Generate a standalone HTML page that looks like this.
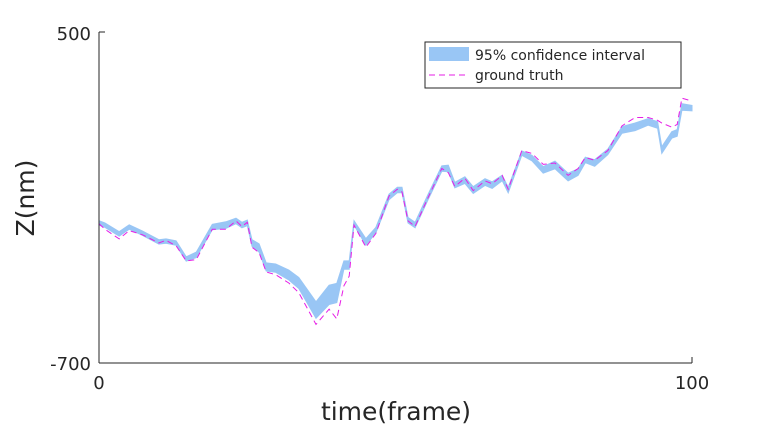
<!DOCTYPE html>
<html><head><meta charset="utf-8"><style>
body{margin:0;background:#fff;}
svg{display:block;font-family:"DejaVu Sans","Liberation Sans",sans-serif;}
</style></head><body>
<svg id="chart" width="765" height="430">
<g id="plot"></g>
<line x1="99" y1="32" x2="99" y2="363" stroke="#262626" stroke-width="1"/>
<line x1="99" y1="363" x2="692" y2="363" stroke="#262626" stroke-width="1"/>
<line x1="99" y1="32" x2="105" y2="32" stroke="#262626"/>
<line x1="692" y1="363" x2="692" y2="357" stroke="#262626"/>
<text x="91" y="40" font-size="18" text-anchor="end" fill="#262626">500</text>
<text x="91" y="370" font-size="18" text-anchor="end" fill="#262626">-700</text>
<text x="99" y="389" font-size="18" text-anchor="middle" fill="#262626">0</text>
<text x="692" y="389" font-size="18" text-anchor="middle" fill="#262626">100</text>
<text x="396" y="420" font-size="25" text-anchor="middle" fill="#262626">time(frame)</text>
<text transform="translate(34,198) rotate(-90)" font-size="25" text-anchor="middle" fill="#262626">Z(nm)</text>
<g>
<rect x="425" y="42" width="256" height="46" fill="#fff" stroke="#262626" stroke-width="1"/>
<rect x="429" y="47" width="40" height="14" fill="#99c6f5"/>
<text x="475" y="60" font-size="14" fill="#262626">95% confidence interval</text>
<line x1="429" y1="75" x2="469" y2="75" stroke="#e61ee6" stroke-dasharray="6,4"/>
<text x="475" y="80" font-size="14" fill="#262626">ground truth</text>
</g>
</svg>
<script>
const frames=[0,1,3.4,5.1,7.3,10.1,11.3,13,14.7,16.4,19.1,21.4,23.1,24.1,25,25.8,27,28.2,29.8,32,33.7,36.6,38.8,40.1,41.3,42.2,43,45,46.7,48.9,50.3,51.1,52.1,53.3,55.5,57.8,58.9,60,61.7,63.1,65.1,66.3,68,69,71.3,73,74.9,76.9,79.1,80.8,82,83.6,85.8,88.2,90.4,92.6,94.2,94.9,96.6,97.5,98.3,100];
const center=[-192,-200,-232,-207,-229,-261,-258,-265,-323,-308,-207,-200,-185,-200,-192,-265,-283,-352,-356,-381,-410,-508,-453,-446,-345,-345,-192,-261,-218,-98,-73,-73,-182,-200,-98,5,5,-55,-37,-73,-44,-55,-29,-73,61,43,0,18,-26,-8,36,25,65,145,156,174,163,72,127,134,228,224];
const halfWidth=[8,8,8,8,8,8,8,8,8,10,10,12,10,10,10,12,15,15,15,18,20,30,35,35,15,15,8,12,10,10,10,10,10,10,10,10,12,10,12,12,12,12,10,10,8,10,12,14,14,12,10,12,10,12,14,12,12,12,12,12,12,10];
const truth=[-195,-215,-250,-220,-235,-265,-255,-275,-330,-325,-215,-215,-185,-205,-190,-280,-300,-370,-380,-410,-445,-560,-505,-540,-420,-385,-200,-280,-230,-95,-70,-80,-185,-205,-100,5,-10,-60,-30,-75,-40,-50,-20,-70,70,60,20,25,-20,5,45,35,70,160,190,190,180,170,155,165,260,250];
const X=f=>99+f*(692-99)/100;
const Y=z=>32+(500-z)*(363-32)/1200;
const NS="http://www.w3.org/2000/svg";
const plot=document.getElementById('plot');
let up=frames.map((f,i)=>X(f).toFixed(1)+","+Y(center[i]+halfWidth[i]).toFixed(1));
let lo=frames.map((f,i)=>X(f).toFixed(1)+","+Y(center[i]-halfWidth[i]).toFixed(1)).reverse();
const band=document.createElementNS(NS,'polygon');
band.setAttribute('points',up.concat(lo).join(' '));
band.setAttribute('fill','#99c6f5');
band.setAttribute('stroke','#99c6f5');
band.setAttribute('stroke-width','1');


plot.appendChild(band);
const gt=document.createElementNS(NS,'polyline');
gt.setAttribute('points',frames.map((f,i)=>X(f).toFixed(1)+","+Y(truth[i]).toFixed(1)).join(' '));
gt.setAttribute('fill','none');
gt.setAttribute('stroke','#e61ee6');
gt.setAttribute('stroke-width','1');
gt.setAttribute('stroke-dasharray','6,4');


plot.appendChild(gt);
</script>
</body></html>
